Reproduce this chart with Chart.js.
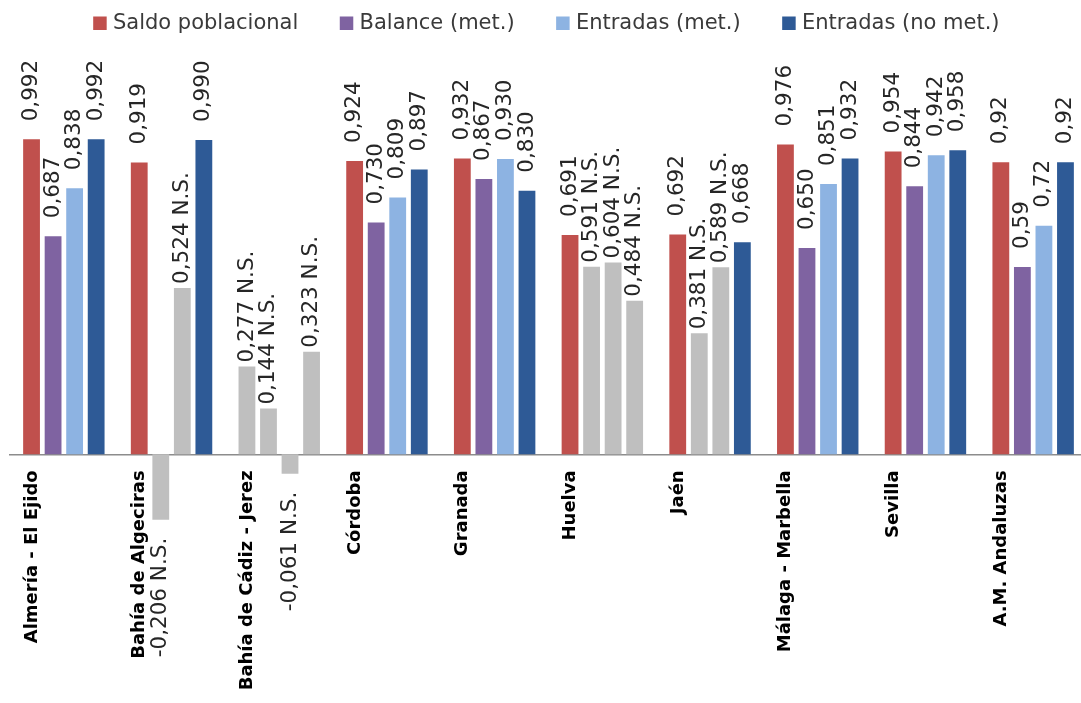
<!DOCTYPE html>
<html lang="es">
<head>
<meta charset="utf-8">
<title>Correlaciones por área metropolitana</title>
<script src="https://cdn.jsdelivr.net/npm/chart.js@4.4.1/dist/chart.umd.min.js"></script>
<style>
  html, body { margin: 0; padding: 0; background: #ffffff; overflow: hidden; }
  #wrap { position: relative; width: 1081px; height: 703px; overflow: hidden; }
  #chart { position: absolute; left: 0; top: 0; }
</style>
</head>
<body>
<div id="wrap"><canvas id="chart" width="1087" height="703"></canvas></div>
<script>
// Areas (categories)
const areas = ['Almería - El Ejido', 'Bahía de Algeciras', 'Bahía de Cádiz - Jerez', 'Córdoba',
  'Granada', 'Huelva', 'Jaén', 'Málaga - Marbella', 'Sevilla', 'A.M. Andaluzas'];

// Series names
const seriesNames = ['Saldo poblacional', 'Balance (met.)', 'Entradas (met.)', 'Entradas (no met.)'];

// Correlation coefficients per series
const saldo         = [0.992, 0.919, 0.277, 0.924, 0.932, 0.691, 0.692, 0.976, 0.954, 0.92];
const balance       = [0.687, -0.206, 0.144, 0.730, 0.867, 0.591, 0.381, 0.650, 0.844, 0.59];
const entradasMet   = [0.838, 0.524, -0.061, 0.809, 0.930, 0.604, 0.589, 0.851, 0.942, 0.72];
const entradasNoMet = [0.992, 0.990, 0.323, 0.897, 0.830, 0.484, 0.668, 0.932, 0.958, 0.92];

// Non-significant coefficients (N.S.)
const nsSaldo         = [false, false, true, false, false, false, false, false, false, false];
const nsBalance       = [false, true,  true, false, false, true,  true,  false, false, false];
const nsEntradasMet   = [false, true,  true, false, false, true,  true,  false, false, false];
const nsEntradasNoMet = [false, false, true, false, false, true,  false, false, false, false];

// Decimal places shown for each area
const decimals = [3, 3, 3, 3, 3, 3, 3, 3, 3, 2];

const seriesColors = ['#C0504D', '#7F63A1', '#8DB3E2', '#2E5A96'];
const nsColor = '#BFBFBF';

function fmt(v, i) {
  return v.toFixed(decimals[i]).replace('.', ',');
}

function makeDataset(label, data, ns, color) {
  return {
    label,
    data,
    ns,
    backgroundColor: (c) => (c.dataIndex !== undefined && ns[c.dataIndex]) ? nsColor : color,
    borderWidth: 0
  };
}

// Rotated value labels above (or below) each bar
const valueLabels = {
  id: 'valueLabels',
  afterDatasetsDraw(chart, args, opts) {
    const ctx = chart.ctx;
    ctx.save();
    ctx.font = opts.font;
    ctx.fillStyle = opts.color;
    ctx.textBaseline = 'middle';
    chart.data.datasets.forEach((ds, di) => {
      const meta = chart.getDatasetMeta(di);
      if (meta.hidden) return;
      meta.data.forEach((bar, i) => {
        const v = ds.data[i];
        const ns = ds.ns[i];
        const text = fmt(v, i) + (ns ? ' N.S.' : '');
        const p = bar.getProps(['x', 'y'], true);
        ctx.save();
        if (v >= 0) {
          ctx.translate(p.x, p.y - (ns ? opts.gapNS : opts.gap));
          ctx.rotate(-Math.PI / 2);
          ctx.textAlign = 'left';
        } else {
          ctx.translate(p.x, p.y + opts.gap);
          ctx.rotate(-Math.PI / 2);
          ctx.textAlign = 'right';
        }
        ctx.fillText(text, 0, 0);
        ctx.restore();
      });
    });
    ctx.restore();
  }
};

new Chart(document.getElementById('chart'), {
  type: 'bar',
  data: {
    labels: areas,
    datasets: [
      makeDataset(seriesNames[0], saldo, nsSaldo, seriesColors[0]),
      makeDataset(seriesNames[1], balance, nsBalance, seriesColors[1]),
      makeDataset(seriesNames[2], entradasMet, nsEntradasMet, seriesColors[2]),
      makeDataset(seriesNames[3], entradasNoMet, nsEntradasNoMet, seriesColors[3])
    ]
  },
  plugins: [valueLabels],
  options: {
    responsive: false,
    animation: false,
    layout: { padding: { left: 10, right: 0, top: -33, bottom: 0 } },
    datasets: { bar: { categoryPercentage: 0.8, barPercentage: 0.78 } },
    plugins: {
      legend: {
        position: 'top',
        labels: {
          font: { family: 'DejaVu Sans', size: 21 },
          color: '#3A3A3A',
          usePointStyle: true,
          pointStyle: 'rect',
          boxWidth: 5,
          boxHeight: 13.5,
          padding: 45.75
        }
      },
      tooltip: { enabled: false },
      valueLabels: {
        font: '21.5px "DejaVu Sans"',
        color: '#262626',
        gap: 18,
        gapNS: 4
      }
    },
    scales: {
      x: {
        position: { y: 0 },
        grid: { display: false, drawTicks: false },
        border: { display: true, color: '#8C8C8C', width: 1.5 },
        ticks: {
          autoSkip: false,
          minRotation: 90,
          maxRotation: 90,
          labelOffset: -32,
          padding: 16,
          color: '#000000',
          font: { family: 'DejaVu Sans', size: 18, weight: 'bold' }
        },
        afterFit(scale) { scale.height = 0; }
      },
      y: {
        display: false,
        min: -0.783,
        max: 1.293
      }
    }
  }
});
</script>
</body>
</html>
